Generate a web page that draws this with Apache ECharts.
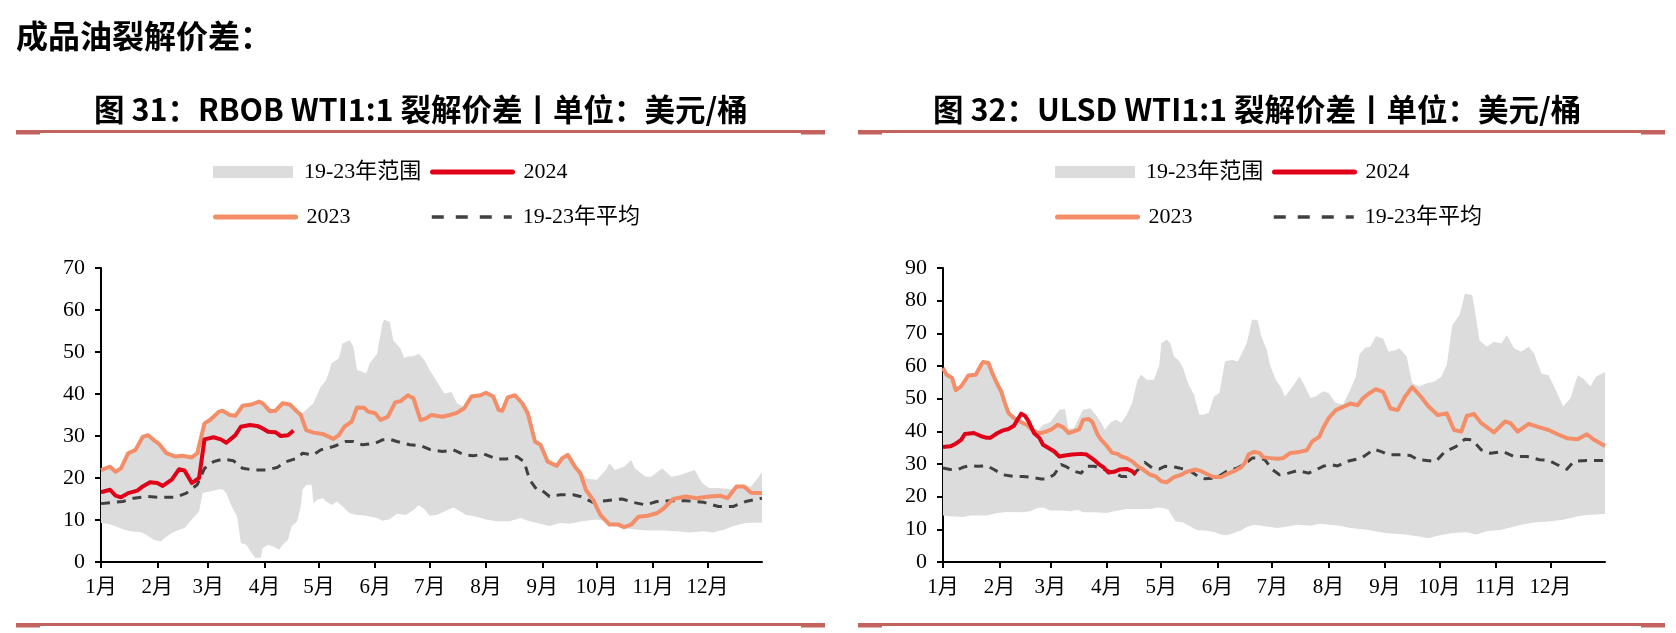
<!DOCTYPE html>
<html><head><meta charset="utf-8">
<script src="https://cdn.jsdelivr.net/npm/echarts@6/dist/echarts.min.js"></script>
<style>html,body{margin:0;padding:0;background:#fff}#c{width:1676px;height:633px}</style>
</head><body><div id="c"></div>
<script>
// ---- tick labels / categories ----
const monthLabels = ['1月','2月','3月','4月','5月','6月','7月','8月','9月','10月','11月','12月'];
const monthDays = [31,28,31,30,31,30,31,31,30,31,30,31];
const rbobYMax = 70, ulsdYMax = 90, yStep = 10;

// ---- RBOB (day-of-year index, value) ----
const rbob2023 = [[0,21.9],[5,22.7],[8,21.5],[11,22.3],[15,25.9],[19,26.7],[23,29.8],[26,30.2],[30,28.7],[32,28.1],[36,25.9],[41,25.1],[45,25.3],[50,24.9],[53,25.9],[57,33.0],[60,33.8],[65,35.8],[67,36.0],[71,35.0],[74,34.8],[78,37.2],[83,37.5],[87,38.2],[89,37.8],[93,35.9],[96,36.0],[100,37.8],[104,37.5],[108,35.8],[110,35.0],[113,31.4],[117,30.8],[122,30.5],[128,29.3],[131,30.2],[134,32.2],[138,33.4],[141,36.8],[145,36.7],[147,35.8],[151,35.4],[154,33.8],[158,34.6],[162,38.0],[165,38.3],[169,39.7],[172,39.0],[176,33.8],[179,34.2],[182,35.0],[188,34.6],[192,35.0],[196,35.5],[200,36.6],[204,39.4],[209,39.7],[212,40.3],[216,39.4],[219,36.2],[221,36.0],[224,39.2],[228,39.7],[232,37.8],[235,35.4],[239,28.7],[242,27.9],[246,23.9],[251,22.9],[254,24.7],[257,25.5],[261,22.7],[264,21.1],[267,17.2],[271,14.8],[275,11.2],[280,8.9],[285,8.9],[288,8.3],[292,8.9],[296,10.8],[301,11.0],[306,11.6],[310,12.8],[315,15.0],[322,15.6],[328,15.2],[335,15.6],[341,15.8],[345,15.2],[350,18.0],[354,18.0],[358,16.5],[364,16.4]];
const rbob2024 = [[0,16.6],[5,17.2],[8,15.8],[11,15.4],[15,16.4],[20,17.0],[23,18.0],[27,19.0],[31,18.8],[34,18.1],[39,19.6],[43,22.1],[46,21.8],[50,18.8],[54,20.0],[57,29.2],[62,29.7],[66,29.2],[69,28.4],[74,30.2],[77,32.2],[82,32.6],[86,32.4],[89,31.8],[92,31.0],[96,30.9],[99,30.0],[103,30.2],[106,31.3]];
const rbobAvg = [[0,13.9],[7,14.2],[12,14.4],[18,15.2],[25,15.6],[32,15.4],[41,15.4],[47,16.4],[53,18.4],[57,22.3],[62,23.9],[67,24.5],[73,24.1],[78,22.3],[84,21.9],[91,21.9],[97,22.5],[102,23.9],[108,24.7],[111,25.9],[117,25.5],[121,26.7],[128,27.5],[135,28.7],[139,28.7],[144,27.9],[151,28.3],[155,29.1],[159,29.2],[163,28.7],[170,27.9],[176,27.7],[181,26.8],[188,26.3],[194,26.7],[200,25.5],[205,25.3],[211,25.7],[218,24.5],[223,24.5],[229,25.1],[233,23.9],[236,19.6],[240,17.2],[243,17.0],[247,15.6],[253,16.0],[260,16.0],[264,15.6],[271,14.2],[278,14.6],[287,15.0],[293,14.2],[300,13.6],[306,14.4],[314,14.6],[322,14.6],[332,14.2],[340,13.2],[348,13.2],[355,14.4],[364,15.2]];
const rbobHigh = [[0,22.2],[5,23],[8,21.8],[11,22.6],[15,26.2],[19,27],[23,30.1],[26,30.5],[30,29],[32,28.4],[36,26.2],[41,25.4],[45,25.6],[50,25.2],[53,26.2],[57,33.3],[60,34.1],[65,36.1],[67,36.3],[71,35.3],[74,35.1],[78,37.5],[83,37.8],[87,38.5],[89,38.1],[93,36.2],[96,36.3],[100,38.1],[104,37.8],[108,36.1],[111,35.5],[117,37.8],[121,41.7],[124,43.3],[127,47.3],[131,48.5],[133,52],[137,52.8],[139,51.2],[141,45.7],[144,45.3],[146,44.9],[148,47.3],[152,49.6],[155,56.8],[156,57.7],[159,57.2],[161,52.8],[165,50.8],[167,48.5],[169,48.9],[172,49],[175,49.6],[178,48.1],[181,45.7],[185,42.9],[189,40.1],[193,40.5],[196,37.8],[200,36.9],[204,39.7],[209,40],[212,40.6],[216,39.7],[219,36.8],[221,36.5],[224,39.5],[228,40],[232,38.1],[235,35.7],[239,29],[242,28.2],[246,24.2],[251,23.2],[254,25],[257,25.8],[261,23],[264,21.4],[268,19.8],[273,19.6],[278,21.9],[280,23.5],[283,21.9],[288,22.7],[292,24.3],[294,22.3],[300,20.3],[303,20.3],[309,22.3],[314,20.3],[319,20.7],[324,21.5],[327,21.9],[331,18.8],[335,17.6],[340,17.6],[347,17.3],[350,18.3],[354,18.3],[358,18],[364,21.3]];
const rbobLow = [[0,9.3],[4,9.1],[8,8.5],[12,7.8],[16,7.3],[22,7.1],[25,6.5],[29,5.3],[33,4.9],[35,5.7],[39,6.9],[43,7.7],[46,8.1],[50,10.1],[54,12],[56,16.4],[60,16.8],[65,17.3],[67,17.3],[69,16.4],[72,13.2],[75,10.8],[77,4.5],[80,4.1],[83,2.1],[85,1.0],[88,1.0],[89,3.3],[92,4.1],[95,3.7],[98,2.9],[100,4.1],[103,5.3],[105,8.5],[108,9.7],[110,13.2],[111,17.2],[113,18.4],[116,18.4],[117,14],[119,14.8],[122,15.2],[124,14.4],[127,13.6],[130,14.4],[133,13.2],[137,11.6],[141,11.2],[146,11],[152,10.5],[155,9.8],[159,10.2],[163,11.5],[168,11.2],[172,12.4],[175,13.5],[178,12.6],[181,11],[185,11.2],[189,12],[194,13],[198,12],[201,11.2],[207,10.8],[212,10.1],[218,9.7],[225,9.7],[231,10.5],[236,9.7],[242,9.1],[247,8.6],[253,9.3],[258,9.1],[265,9.7],[273,10.1],[278,9.7],[286,8.1],[293,7.8],[301,7.5],[309,7.5],[317,7.3],[324,7.0],[332,7.3],[337,7.0],[343,7.7],[348,8.5],[355,9.3],[364,9.4]];

// ---- ULSD ----
const ulsd2023 = [[0,59.4],[2,57.3],[5,56.3],[7,52.6],[10,53.8],[14,57.1],[18,57.3],[21,60.4],[22,61.2],[25,60.9],[27,57.9],[30,54.3],[32,52.2],[34,48.7],[36,45.6],[39,44.1],[43,42.8],[46,42],[49,40.5],[52,39.5],[54,39.5],[57,40],[60,40.7],[63,42],[66,41.3],[69,39.5],[72,40],[75,40.7],[77,43.5],[80,43.8],[82,43],[85,39],[87,37.4],[90,35.6],[93,33.4],[96,33.1],[98,32.3],[101,31.8],[104,30.8],[107,29.3],[110,28.3],[114,26.7],[117,26.2],[120,24.7],[123,24.4],[127,26],[131,26.7],[134,27.6],[139,28.3],[142,27.8],[146,26.7],[149,26],[153,26],[156,26.9],[160,27.8],[164,29],[166,30.3],[168,32.9],[171,33.7],[174,33.4],[176,32.1],[180,31.8],[184,31.6],[187,31.8],[191,33.4],[196,33.7],[200,34.2],[203,36.9],[207,38.4],[209,41],[212,44],[216,46.5],[220,47.5],[224,48.5],[228,48],[231,50.2],[234,51.5],[238,52.9],[242,52.1],[246,47],[250,46.5],[254,50.6],[258,53.5],[262,51.1],[267,47.6],[272,45],[277,45.5],[281,40.4],[285,39.9],[288,44.7],[292,45.3],[296,42.5],[303,39.7],[309,43],[312,42.5],[316,39.9],[322,42.3],[328,41.2],[333,40.4],[338,39.1],[343,37.9],[349,37.6],[354,39.1],[358,37.4],[364,35.5]];
const ulsd2024 = [[0,35.2],[4,35.4],[7,36.2],[10,37.4],[12,39.2],[17,39.5],[21,38.5],[24,38],[26,38],[30,39.5],[33,40.3],[36,40.7],[39,41.7],[41,43.6],[43,45.4],[45,44.8],[47,43.1],[50,39.5],[53,38],[55,35.9],[58,34.9],[61,33.9],[64,32.3],[67,32.6],[71,32.9],[76,33.1],[79,32.9],[83,31.3],[86,29.8],[88,29.1],[91,27.4],[94,27.6],[97,28.3],[98,28.8],[101,28.5],[104,27.8],[106,26.7]];
const ulsdAvg = [[0,28.8],[4,28.3],[8,28.3],[11,29],[15,29.5],[19,29.3],[24,29.5],[28,28.3],[33,26.7],[39,26.2],[44,26.2],[49,25.9],[54,25.4],[57,25.4],[61,26.7],[65,29.8],[68,29.1],[72,27.8],[76,27.2],[79,29.3],[83,29.3],[87,28.8],[90,28],[94,27.4],[98,26.2],[101,26.2],[105,27.2],[109,29.1],[111,30.5],[115,28.8],[119,28.5],[122,29.3],[128,29],[132,28.5],[136,27.8],[141,26],[144,25.5],[149,25.7],[153,26.7],[156,27.8],[162,28.8],[166,30],[170,31.8],[174,31.8],[177,31.3],[181,28.3],[185,26.7],[190,27.2],[195,28],[201,27.2],[205,28.2],[209,29.3],[213,29.8],[217,29.4],[222,30.8],[230,31.8],[237,34.5],[241,33.8],[245,32.8],[251,32.8],[257,32.6],[261,31.3],[266,31.1],[271,30.8],[276,33.8],[282,35.3],[287,37.6],[291,37.4],[296,34.3],[301,33.3],[308,33.8],[314,32.3],[321,32.3],[328,31.3],[333,31.1],[338,29.7],[343,28.4],[347,30.8],[354,31.1],[364,31.1]];
const ulsdHigh = [[0,59.7],[2,57.6],[5,56.6],[7,53],[10,54.2],[14,57.4],[18,57.6],[21,60.7],[22,61.5],[25,61.2],[27,58.2],[30,54.6],[32,52.5],[34,49],[36,46],[39,44.5],[43,43.1],[46,42.3],[49,41],[52,40],[55,42],[59,42.8],[64,46.6],[67,46.8],[69,40.8],[72,41],[77,46.6],[81,47.1],[84,45.1],[87,42.6],[89,40.5],[92,42.6],[95,43.6],[98,42.6],[101,45.1],[104,48.7],[107,55.8],[109,57.3],[112,55.8],[116,55.8],[119,60.4],[120,67],[123,68.1],[125,67],[127,63],[130,61.4],[132,59.4],[135,54.3],[138,51.2],[141,45.1],[143,45.1],[146,45.6],[149,50.7],[152,51.7],[154,57.9],[155,61.4],[159,61.9],[162,61.4],[164,63.5],[167,67],[170,74.2],[173,74],[175,69.1],[178,65],[180,59.9],[183,55.8],[186,53.3],[188,50.7],[191,52.8],[196,56.8],[199,53.8],[202,50.2],[205,50.7],[209,52.3],[212,51.7],[216,48.7],[220,48.2],[224,52.8],[227,56.8],[229,63.5],[232,65.5],[235,66],[238,69.1],[242,68.4],[245,64.4],[249,64.9],[251,65.4],[255,62.8],[258,54.7],[262,53.7],[266,54.7],[270,55.2],[274,56.7],[277,60.3],[280,72.5],[284,75.6],[287,82.2],[291,81.7],[293,75.1],[295,67.9],[299,65.9],[303,67.4],[307,66.9],[310,69.5],[314,65.4],[318,64.4],[322,65.9],[325,63.8],[329,57.7],[333,57.2],[337,52.6],[341,47.6],[345,50.1],[349,57.2],[352,56.2],[356,53.7],[359,56.7],[364,58.2]];
const ulsdLow = [[0,14.2],[4,14],[11,13.8],[15,14.2],[24,14.2],[30,15],[35,15.3],[43,15.2],[48,15.5],[52,16.5],[55,16.7],[59,15.8],[65,15.8],[70,15.5],[74,16],[77,15.2],[83,15.2],[90,15],[94,15.5],[101,16.2],[109,16.2],[114,16.2],[118,16.7],[121,16.5],[124,16],[126,14],[128,12.4],[132,12.1],[136,10.9],[140,9.7],[145,9.6],[149,9.2],[153,8.4],[156,8.2],[160,8.9],[164,9.7],[167,10.7],[171,11.4],[175,11.1],[180,10.7],[184,10.4],[189,10.9],[195,11.4],[202,11.1],[207,11.7],[213,11.4],[218,11.1],[224,10.4],[229,10.1],[233,9.9],[243,8.9],[254,8.4],[262,7.8],[267,7.3],[272,8],[280,8.9],[288,9.1],[293,8.4],[299,9.4],[307,9.9],[313,10.7],[318,11.4],[325,12.1],[333,12.4],[341,12.9],[349,14],[356,14.5],[364,14.7]];

// ---- build categories (one per day) ----
const dayCats = [], monthStart = new Set();
monthDays.forEach((n, m) => { for (let d = 1; d <= n; d++) { if (d === 1) monthStart.add(dayCats.length); dayCats.push((m + 1) + '/' + d); } });

const BAND = '#dcdcdc', C23 = '#f38e68', C24 = '#e00018', CAVG = '#404040', LINE_RED = '#c4625e';
const SERIF = 'Liberation Serif, Times New Roman, Noto Sans CJK SC, serif';
const SANS = 'Noto Sans CJK SC, sans-serif';

function xAxis(gi) {
  return {
    type: 'category', gridIndex: gi, data: dayCats, boundaryGap: false,
    axisLine: { show: true, lineStyle: { color: '#000', width: 2 } },
    axisTick: { show: true, length: 6, interval: (i) => monthStart.has(i), lineStyle: { color: '#000', width: 2 } },
    axisLabel: { interval: (i) => monthStart.has(i), formatter: (v) => monthLabels[parseInt(v, 10) - 1],
      color: '#000', fontSize: 21, fontFamily: SERIF, margin: 15 },
    splitLine: { show: false }
  };
}
function yAxis(gi, max) {
  return {
    type: 'value', gridIndex: gi, min: 0, max: max, interval: yStep,
    axisLine: { show: true, lineStyle: { color: '#000', width: 2 } },
    axisTick: { show: true, length: 6, lineStyle: { color: '#000', width: 2 } },
    axisLabel: { color: '#000', fontSize: 22, fontFamily: SERIF, margin: 16 },
    splitLine: { show: false }
  };
}
function band(gi, high, low) {
  return {
    type: 'custom', name: '19-23年范围', xAxisIndex: gi, yAxisIndex: gi, z: 1, silent: true,
    itemStyle: { color: BAND }, encode: { x: 0, y: 1 }, data: high,
    renderItem: (params, api) => {
      if (params.dataIndex !== 0) return null;
      const pts = high.map(p => api.coord(p)).concat(low.slice().reverse().map(p => api.coord(p)));
      return { type: 'polygon', shape: { points: pts }, style: { fill: BAND } };
    }
  };
}
function line(gi, name, data, color, width, type, z) {
  return { type: 'line', name, xAxisIndex: gi, yAxisIndex: gi, data, symbol: 'none', z,
    itemStyle: { color }, lineStyle: { color, width, type, join: 'round', cap: 'butt' } };
}
const legTxt = { fontSize: 22, fontFamily: SERIF, color: '#000', padding: [0, 0, 0, 6] };
function leg(name, left, top, ls) {
  const l = { data: [ls ? { name } : { name, icon: 'rect' }], left, top, orient: 'horizontal', padding: 0,
    itemWidth: 80, itemHeight: 12, selectedMode: false, textStyle: legTxt };
  if (ls) { l.itemStyle = { opacity: 0 }; l.lineStyle = ls; }
  return l;
}
function legends(dx) {
  return [
    leg('19-23年范围', 213 + dx, 161, null),
    leg('2024', 430 + dx, 161, { width: 5, cap: 'round', color: C24 }),
    leg('2023', 213 + dx, 206, { width: 5, cap: 'round', color: C23 }),
    leg('19-23年平均', 430 + dx, 206, { width: 3.5, type: [12, 12], color: CAVG })
  ];
}
function rule(x, y, w) {
  return [
    { type: 'rect', shape: { x, y, width: w, height: 3 }, style: { fill: LINE_RED } },
    { type: 'rect', shape: { x, y, width: 24, height: 4.5 }, style: { fill: LINE_RED } },
    { type: 'rect', shape: { x: x + w - 24, y, width: 24, height: 4.5 }, style: { fill: LINE_RED } }
  ];
}
const titleStyle = { color: '#000', fontWeight: 'bold', fontFamily: SANS };

const option = {
  animation: false,
  backgroundColor: '#fff',
  textStyle: { fontFamily: SERIF },
  title: [
    { text: '成品油裂解价差：', left: 16, top: 20, padding: 0, textStyle: Object.assign({ fontSize: 32 }, titleStyle) },
    { text: '图 31：RBOB WTI1:1 裂解价差丨单位：美元/桶', left: 94, top: 94, padding: 0, textStyle: Object.assign({ fontSize: 30.5 }, titleStyle) },
    { text: '图 32：ULSD WTI1:1 裂解价差丨单位：美元/桶', left: 933, top: 94, padding: 0, textStyle: Object.assign({ fontSize: 30.5 }, titleStyle) }
  ],
  legend: legends(0).concat(legends(842)),
  grid: [
    { left: 101, top: 268, width: 661, height: 294, containLabel: false },
    { left: 943, top: 268, width: 662, height: 294, containLabel: false }
  ],
  xAxis: [xAxis(0), xAxis(1)],
  yAxis: [yAxis(0, rbobYMax), yAxis(1, ulsdYMax)],
  series: [
    band(0, rbobHigh, rbobLow),
    line(0, '19-23年平均', rbobAvg, CAVG, 3, [9, 7], 3),
    line(0, '2023', rbob2023, C23, 4, 'solid', 4),
    line(0, '2024', rbob2024, C24, 4, 'solid', 5),
    band(1, ulsdHigh, ulsdLow),
    line(1, '19-23年平均', ulsdAvg, CAVG, 3, [9, 7], 3),
    line(1, '2023', ulsd2023, C23, 4, 'solid', 4),
    line(1, '2024', ulsd2024, C24, 4, 'solid', 5)
  ],
  graphic: [].concat(rule(16, 130, 809), rule(858, 130, 807), rule(16, 623, 809), rule(858, 623, 807))
};
const chart = echarts.init(document.getElementById('c'), null, { renderer: 'canvas' });
chart.setOption(option);
</script>
</body></html>
